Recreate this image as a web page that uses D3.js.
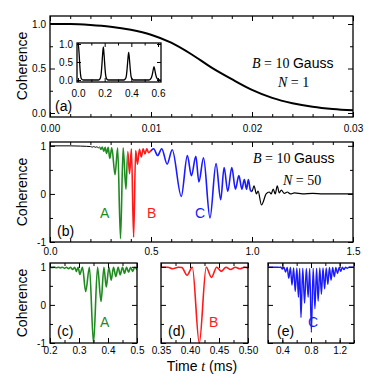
<!DOCTYPE html>
<html>
<head>
<meta charset="utf-8">
<script src="https://cdn.jsdelivr.net/npm/d3@7"></script>
<style>
body { margin:0; background:#fff; }
svg { display:block; }
</style>
</head>
<body>
<svg id="drawing_region"></svg>
<script>
// ---- data ----
// (a) N = 1 decay, time in ms
const a_time = [0, 0.002, 0.004, 0.006, 0.008, 0.010, 0.012, 0.014, 0.016, 0.018, 0.020, 0.022, 0.024, 0.026, 0.028, 0.030];
const a_coherence = [1.0, 1.0, 0.99, 0.97, 0.935, 0.88, 0.79, 0.66, 0.51, 0.38, 0.26, 0.17, 0.11, 0.07, 0.045, 0.03];

// (a) inset, revivals
const inset_time = [0, 0.004, 0.008, 0.012, 0.016, 0.02, 0.026, 0.04, 0.1, 0.155, 0.165, 0.172, 0.178, 0.184, 0.19, 0.196, 0.202, 0.208, 0.215, 0.225,
    0.3, 0.345, 0.355, 0.362, 0.368, 0.374, 0.38, 0.386, 0.392, 0.398, 0.405, 0.415,
    0.5, 0.53, 0.542, 0.55, 0.557, 0.564, 0.57, 0.576, 0.583, 0.59, 0.598, 0.61, 0.62];
const inset_coherence = [1.0, 0.93, 0.75, 0.5, 0.27, 0.12, 0.03, 0.0, 0.0, 0.0, 0.03, 0.12, 0.35, 0.68, 0.92, 0.68, 0.35, 0.12, 0.03, 0.0,
    0.0, 0.0, 0.03, 0.1, 0.3, 0.57, 0.77, 0.57, 0.3, 0.1, 0.03, 0.0,
    0.0, 0.0, 0.02, 0.06, 0.15, 0.28, 0.37, 0.28, 0.15, 0.06, 0.02, 0.0, 0.0];

// (b) N = 50
const b_time = [0, 0.1, 0.15, 0.18, 0.2, 0.21, 0.217, 0.225, 0.232, 0.24, 0.245,
    0.252, 0.259, 0.266, 0.273, 0.28, 0.288, 0.296, 0.306, 0.322, 0.335, 0.349, 0.362, 0.376, 0.385,
    0.394, 0.403, 0.414, 0.424, 0.433, 0.443, 0.452, 0.461, 0.47, 0.479, 0.488, 0.5,
    0.513, 0.533, 0.553, 0.58, 0.605, 0.65, 0.68, 0.70, 0.722, 0.737, 0.76, 0.792, 0.822, 0.845, 0.862, 0.88,
    0.90, 0.918, 0.935, 0.95, 0.962, 0.973, 0.982, 0.992, 1.0,
    1.01, 1.022, 1.03, 1.047, 1.07, 1.085, 1.095, 1.105, 1.115, 1.125, 1.135, 1.145, 1.16, 1.175, 1.19, 1.21, 1.25, 1.3, 1.35, 1.5];
const b_coherence = [1.0, 1.0, 0.995, 0.99, 0.985, 0.975, 0.985, 0.97, 0.98, 0.96, 0.975,
    0.93, 0.975, 0.89, 0.97, 0.84, 0.97, 0.74, 0.96, 0.4, 0.96, -0.93, 0.96, 0.1, 0.88,
    0.42, 0.94, -0.9, 0.9, 0.62, 0.93, 0.77, 0.94, 0.83, 0.94, 0.86, 0.9,
    0.94, 0.80, 0.94, 0.62, 0.92, -0.05, 0.80, 0.38, 0.78, 0.25, 0.75, -0.50, 0.63, -0.12, 0.55, 0.05,
    0.55, 0.10, 0.38, 0.10, 0.30, 0.10, 0.30, 0.08, 0.05,
    0.17, 0.0, 0.06, -0.23, 0.0, 0.04, 0.0, 0.1, 0.0, 0.17, 0.02, 0.08, 0.01, 0.04, 0.0, 0.02, 0.0, 0.01, 0.0, 0.0];
const b_breaks = [0, 0.245, 0.385, 0.5, 1.0, 1.5];
const b_colors = ['#000000', '#1f8a1f', '#ff1a1a', '#1a1aff', '#000000'];
const b_widths = [1, 1.6, 1.6, 1.6, 1.2];

// (c) contribution A
const c_time = [0.2, 0.208, 0.215, 0.222, 0.229, 0.236, 0.243, 0.25, 0.257, 0.264, 0.271, 0.278, 0.285, 0.291, 0.297, 0.303, 0.312,
    0.323, 0.336, 0.35, 0.364, 0.376, 0.386, 0.394, 0.403, 0.411, 0.419, 0.427, 0.435, 0.442, 0.45, 0.457, 0.464, 0.471, 0.478, 0.485, 0.492, 0.5];
const c_coherence = [0.99, 0.98, 0.99, 0.975, 0.99, 0.97, 0.99, 0.96, 0.99, 0.95, 0.99, 0.93, 0.99, 0.88, 0.99, 0.8, 0.99,
    0.35, 0.99, -1.0, 0.99, 0.09, 0.99, 0.47, 0.99, 0.65, 0.99, 0.74, 0.99, 0.79, 0.99, 0.83, 0.99, 0.86, 0.99, 0.88, 0.99, 0.92];

// (d) contribution B
const d_time = [0.35, 0.362, 0.37, 0.38, 0.386, 0.395, 0.404, 0.416, 0.428, 0.437, 0.446, 0.454, 0.462, 0.47, 0.478, 0.486, 0.494, 0.5];
const d_coherence = [0.99, 0.99, 0.95, 0.99, 0.98, 0.78, 0.99, -1.0, 0.99, 0.72, 0.99, 0.88, 0.99, 0.93, 0.99, 0.95, 0.99, 0.97];

// (e) contribution C
const e_time = [0.2, 0.3, 0.36, 0.378, 0.40, 0.4225, 0.445, 0.4675, 0.49, 0.5125, 0.535, 0.5575, 0.58, 0.6025, 0.625, 0.6425, 0.66,
    0.685, 0.71, 0.735, 0.76, 0.7825, 0.805, 0.83, 0.855, 0.8775, 0.9, 0.9225, 0.945, 0.9675, 0.99, 1.0125, 1.035, 1.0575, 1.08,
    1.1025, 1.125, 1.1475, 1.17, 1.1925, 1.215, 1.2375, 1.26, 1.2825, 1.305, 1.33, 1.4];
const e_coherence = [0.99, 0.99, 0.985, 0.99, 0.94, 0.99, 0.86, 0.98, 0.7, 0.98, 0.52, 0.97, 0.35, 0.97, 0.2, 0.96, -0.33,
    0.96, 0.05, 0.96, 0.2, 0.96, -0.72, 0.96, -0.1, 0.96, 0.1, 0.97, 0.28, 0.97, 0.42, 0.97, 0.54, 0.98, 0.65,
    0.98, 0.74, 0.98, 0.82, 0.98, 0.88, 0.99, 0.93, 0.99, 0.96, 0.99, 0.99];

// ---- tick labels ----
const a_xticks = [0, 0.01, 0.02, 0.03];
const inset_xticks = [0, 0.2, 0.4, 0.6];
const frac_yticks = [0, 0.5, 1];
const b_xticks = [0, 0.5, 1.0, 1.5];
const sym_yticks = [-1, 0, 1];
const c_xticks = [0.2, 0.3, 0.4, 0.5];
const d_xticks = [0.35, 0.40, 0.45, 0.50];
const e_xticks = [0.4, 0.8, 1.2];

const SANS = '"Liberation Sans", Arial, Helvetica, sans-serif';
const SERIF = '"Liberation Serif", "Times New Roman", Times, serif';

const svg = d3.select('#drawing_region')
    .attr('width', 374)
    .attr('height', 385);

let clip_count = 0;

class Panel {

    constructor( config ) {
        this.config = config;
        this.init();
    }

    init() {
        let self = this;
        const c = self.config;

        self.xscale = d3.scaleLinear().domain(c.xdomain).range([c.left, c.right]);
        self.yscale = d3.scaleLinear().domain(c.ydomain).range([c.bottom, c.top]);

        self.g = svg.append('g');
        self.g.append('rect')
            .attr('x', c.left).attr('y', c.top)
            .attr('width', c.right - c.left).attr('height', c.bottom - c.top)
            .attr('fill', '#fff');
    }

    curve( times, values, color, width, xfrom, xto ) {
        let self = this;
        const c = self.config;
        const id = 'clip' + (clip_count++);
        const x0 = xfrom === undefined ? c.left : self.xscale(xfrom);
        const x1 = xto === undefined ? c.right : self.xscale(xto);

        self.g.append('clipPath').attr('id', id)
            .append('rect')
            .attr('x', x0).attr('y', c.top - 1)
            .attr('width', x1 - x0).attr('height', c.bottom - c.top + 2);

        const line = d3.line()
            .x(d => self.xscale(d[0]))
            .y(d => self.yscale(d[1]))
            .curve(d3.curveMonotoneX);

        self.g.append('path')
            .datum(d3.zip(times, values))
            .attr('clip-path', `url(#${id})`)
            .attr('d', line)
            .attr('fill', 'none')
            .attr('stroke', color)
            .attr('stroke-width', width)
            .attr('stroke-linejoin', 'round');
    }

    axes() {
        let self = this;
        const c = self.config;
        const fs = c.fontSize;

        const sides = [
            { fn: d3.axisBottom, scale: self.xscale, pos: `translate(0,${c.bottom})`, major: c.xMajor, minor: c.xMinor, fmt: c.xFormat, pad: c.xPad },
            { fn: d3.axisTop, scale: self.xscale, pos: `translate(0,${c.top})`, major: c.xMajor, minor: c.xMinor, fmt: null },
            { fn: d3.axisLeft, scale: self.yscale, pos: `translate(${c.left},0)`, major: c.yMajor, minor: c.yMinor, fmt: c.yFormat, pad: c.yPad },
            { fn: d3.axisRight, scale: self.yscale, pos: `translate(${c.right},0)`, major: c.yMajor, minor: c.yMinor, fmt: null }
        ];

        sides.forEach( s => {
            if (s.minor) {
                self.g.append('g')
                    .attr('transform', s.pos)
                    .call( s.fn(s.scale).tickValues(s.minor).tickFormat('').tickSize(-c.minorLen).tickSizeOuter(0) )
                    .call( g => g.select('.domain').remove() );
            }
            self.g.append('g')
                .attr('transform', s.pos)
                .attr('font-size', fs)
                .attr('font-family', SANS)
                .call( s.fn(s.scale).tickValues(s.major)
                    .tickFormat(s.fmt ? s.fmt : '')
                    .tickSize(-c.majorLen)
                    .tickPadding(s.pad || 3)
                    .tickSizeOuter(0) )
                .call( g => g.select('.domain').remove() );
        });

        self.g.selectAll('.tick line').attr('stroke', '#000').attr('stroke-width', 1);
        self.g.selectAll('.tick text').attr('fill', '#000');

        self.g.append('rect')
            .attr('x', c.left).attr('y', c.top)
            .attr('width', c.right - c.left).attr('height', c.bottom - c.top)
            .attr('fill', 'none')
            .attr('stroke', '#000')
            .attr('stroke-width', 1.3);
    }
}

function text( x, y, parts, opts ) {
    opts = opts || {};
    const t = svg.append('text')
        .attr('x', x).attr('y', y)
        .attr('font-size', opts.size || 14)
        .attr('fill', opts.color || '#000')
        .attr('text-anchor', opts.anchor || 'start');
    if (opts.rotate) t.attr('transform', `rotate(${opts.rotate},${x},${y})`);
    parts.forEach( p => {
        t.append('tspan')
            .attr('font-family', p.serif ? SERIF : SANS)
            .attr('font-style', p.italic ? 'italic' : 'normal')
            .text(p.s);
    });
}

const ylabelfmt = d => d === -1 ? '-1' : String(d);
const range_ticks = (a, b, step) => d3.range(Math.round((b - a) / step) + 1).map(i => +(a + i * step).toFixed(4));

// ---- (a) ----
const pa = new Panel({
    left: 50, right: 353, top: 16, bottom: 117,
    xdomain: [0, 0.03], ydomain: [-0.045, 1.09],
    xMajor: a_xticks, xMinor: range_ticks(0, 0.03, 0.002), xFormat: d3.format('.2f'), xPad: 8,
    yMajor: frac_yticks, yMinor: [0.25, 0.75], yFormat: d3.format('.1f'), yPad: 4,
    fontSize: 11.5, majorLen: 5, minorLen: 3
});
pa.curve(a_time, a_coherence, '#000', 2);
pa.axes();

const pin = new Panel({
    left: 77, right: 161, top: 43, bottom: 82,
    xdomain: [-0.0075, 0.6225], ydomain: [-0.056, 1.028],
    xMajor: inset_xticks, xMinor: [0.1, 0.3, 0.5], xFormat: d3.format('.1f'), xPad: 8,
    yMajor: frac_yticks, yMinor: null, yFormat: d3.format('.1f'), yPad: 4,
    fontSize: 9.5, majorLen: 4, minorLen: 2.5
});
pin.curve(inset_time, inset_coherence, '#000', 1.3);
pin.axes();

text(252, 68, [{s: 'B', serif: true, italic: true}, {s: ' = 10 ', serif: true}, {s: 'Gauss'}]);
text(278, 87, [{s: 'N', serif: true, italic: true}, {s: ' = 1', serif: true}]);
text(55, 111, [{s: '(a)'}]);
text(27, 66, [{s: 'Coherence'}], {rotate: -90, anchor: 'middle'});

// ---- (b) ----
const pb = new Panel({
    left: 50, right: 353, top: 142, bottom: 242,
    xdomain: [0, 1.5], ydomain: [-1, 1.08],
    xMajor: b_xticks, xMinor: range_ticks(0, 1.5, 0.1), xFormat: d3.format('.1f'), xPad: 6,
    yMajor: sym_yticks, yMinor: [-0.5, 0.5], yFormat: ylabelfmt, yPad: 4,
    fontSize: 11.5, majorLen: 5, minorLen: 3
});
b_colors.forEach( (col, i) => {
    pb.curve(b_time, b_coherence, col, b_widths[i], b_breaks[i], b_breaks[i + 1]);
});
pb.axes();

text(253, 163, [{s: 'B', serif: true, italic: true}, {s: ' = 10 ', serif: true}, {s: 'Gauss'}]);
text(283, 185, [{s: 'N', serif: true, italic: true}, {s: ' = 50', serif: true}]);
text(100, 218, [{s: 'A'}], {color: b_colors[1]});
text(147, 218, [{s: 'B'}], {color: b_colors[2]});
text(195, 218, [{s: 'C'}], {color: b_colors[3]});
text(57, 236, [{s: '(b)'}]);
text(27, 192, [{s: 'Coherence'}], {rotate: -90, anchor: 'middle'});

// ---- (c), (d), (e) ----
const small = {
    top: 263, bottom: 343, ydomain: [-1, 1.1],
    yMajor: sym_yticks, yMinor: [-0.5, 0.5], yPad: 4, xPad: 4,
    fontSize: 11.5, majorLen: 5, minorLen: 3
};

const pc = new Panel(Object.assign({}, small, {
    left: 50, right: 137, xdomain: [0.2, 0.5],
    xMajor: c_xticks, xMinor: range_ticks(0.2, 0.5, 0.05), xFormat: d3.format('.1f'), yFormat: ylabelfmt
}));
pc.curve(c_time, c_coherence, b_colors[1], 1.6);
pc.axes();

const pd = new Panel(Object.assign({}, small, {
    left: 161, right: 248, xdomain: [0.35, 0.5],
    xMajor: d_xticks, xMinor: range_ticks(0.35, 0.5, 0.025), xFormat: d3.format('.2f'), yFormat: null
}));
pd.curve(d_time, d_coherence, b_colors[2], 1.6);
pd.axes();

const pe = new Panel(Object.assign({}, small, {
    left: 268, right: 354, xdomain: [0.2, 1.4],
    xMajor: e_xticks, xMinor: range_ticks(0.2, 1.4, 0.2), xFormat: d3.format('.1f'), yFormat: null
}));
pe.curve(e_time, e_coherence, b_colors[3], 1.4);
pe.axes();

text(57, 336, [{s: '(c)'}]);
text(168, 336, [{s: '(d)'}]);
text(277, 336, [{s: '(e)'}]);
text(100, 327, [{s: 'A'}], {color: b_colors[1]});
text(209, 327, [{s: 'B'}], {color: b_colors[2]});
text(308, 327, [{s: 'C'}], {color: b_colors[3]});
text(27, 303, [{s: 'Coherence'}], {rotate: -90, anchor: 'middle'});
text(202, 371, [{s: 'Time '}, {s: 't', serif: true, italic: true}, {s: ' (ms)'}], {anchor: 'middle'});
</script>
</body>
</html>
